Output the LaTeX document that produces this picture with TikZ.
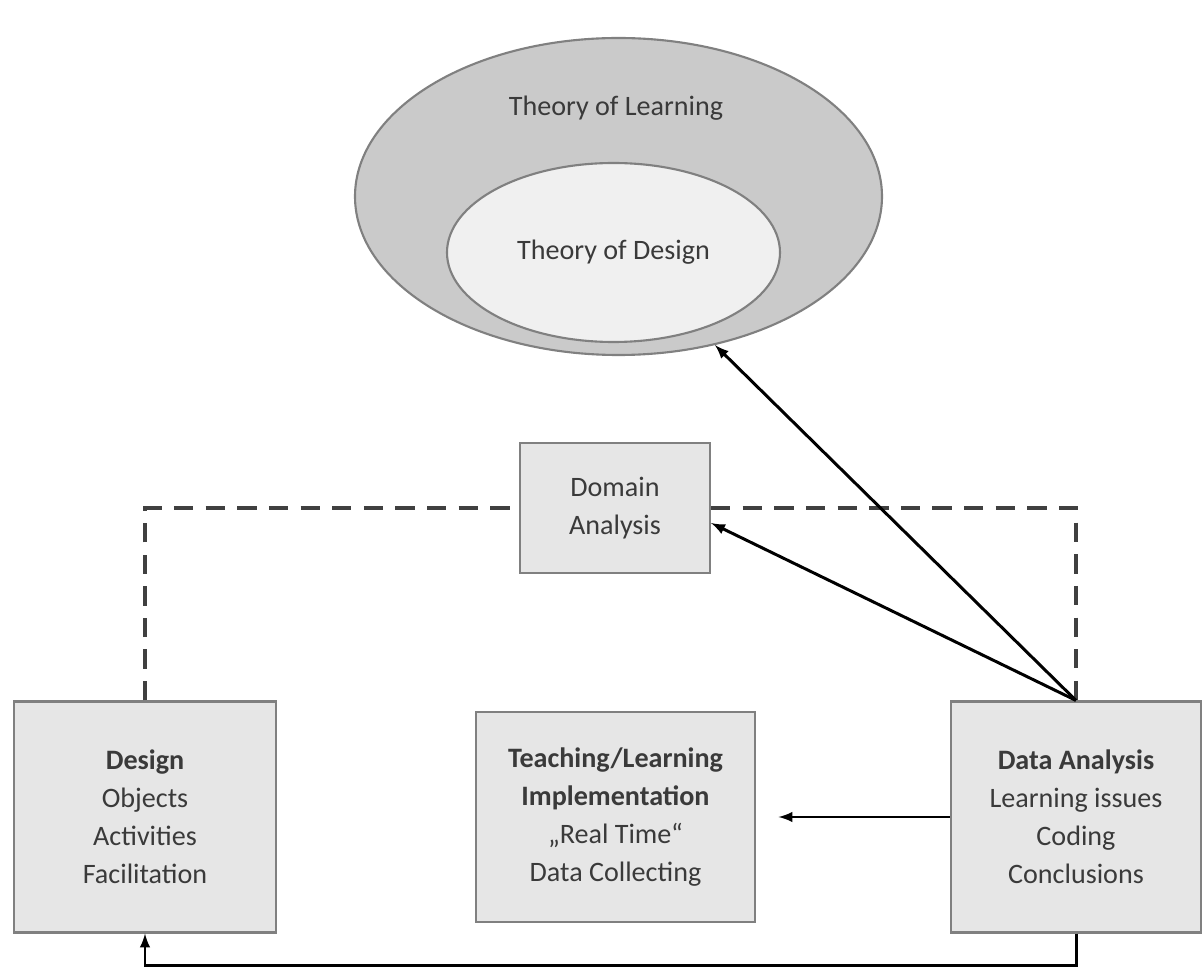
\documentclass[tikz,border=0pt]{standalone}
\usepackage{fontspec}
\setmainfont{Carlito}
\usepackage{tikz}
\usetikzlibrary{positioning}
\usetikzlibrary{arrows}
\usetikzlibrary{shapes.geometric}
\definecolor{boxfill}{HTML}{E6E6E6}
\definecolor{boxline}{HTML}{808080}
\definecolor{outerfill}{HTML}{CACACA}
\definecolor{innerfill}{HTML}{F0F0F0}
\definecolor{textgray}{HTML}{3A3A3A}
\tikzset {
  % grey boxes of the cycle
  box/.style = {draw=boxline, fill=boxfill, line width=1.2pt, inner sep=0pt,
    align=center, text=textgray, font=\fontsize{16}{21.6}\selectfont},
  % the two theories
  theory/.style = {draw=boxline, ellipse, line width=1.2pt, inner sep=0pt,
    text=textgray, font=\fontsize{16}{21.6}\selectfont},
  % connectors
  link/.style = {-latex, line width=1.7pt},
  plan/.style = {dashed, dash pattern=on 11pt off 7pt, line width=2.2pt, color=black!75},
}

\begin{document}
\begin{tikzpicture}
      \useasboundingbox[fill=white] (0,0) rectangle (24.06,-19.58);

      \node[theory, fill=outerfill, minimum width=10.54cm, minimum height=6.34cm] (learn) at (12.37, -3.93) {};
      \node[text=textgray, font=\fontsize{16}{21.6}\selectfont] (learntxt) at (12.32, -2.16) {Theory of Learning};
      \node[theory, fill=innerfill, minimum width=6.66cm, minimum height=3.58cm] (design) at (12.27, -5.05) {Theory of Design};

      \node[box, minimum width=3.8cm, minimum height=2.6cm] (dom) at (12.3, -10.16) {Domain\\Analysis};

      \node[box, minimum width=5.24cm, minimum height=4.62cm] (des) at (2.9, -16.34)
        {\textbf{Design}\\Objects\\Activities\\Facilitation};
      \node[box, minimum width=5.58cm, minimum height=4.2cm] (teach) at (12.31, -16.34)
        {\textbf{Teaching/Learning}\\\textbf{Implementation}\\„Real Time“\\Data Collecting};
      \node[box, minimum width=5.0cm, minimum height=4.62cm] (data) at (21.52, -16.34)
        {\textbf{Data Analysis}\\Learning issues\\Coding\\Conclusions};

      \draw [plan] (des.north) |- (dom.west);
      \draw [plan] (dom.east) -| (data.north);

      \draw [link] (data.north) -- (learn.-57);
      \draw [link] (data.north) -- ([yshift=-0.3cm]dom.east);
      \draw [link, shorten >=0.45cm] (data.west) -- (teach.east);
      \draw [link] (data.south) -- ++(0,-0.64) -| (des.south);
    \end{tikzpicture}
\end{document}
